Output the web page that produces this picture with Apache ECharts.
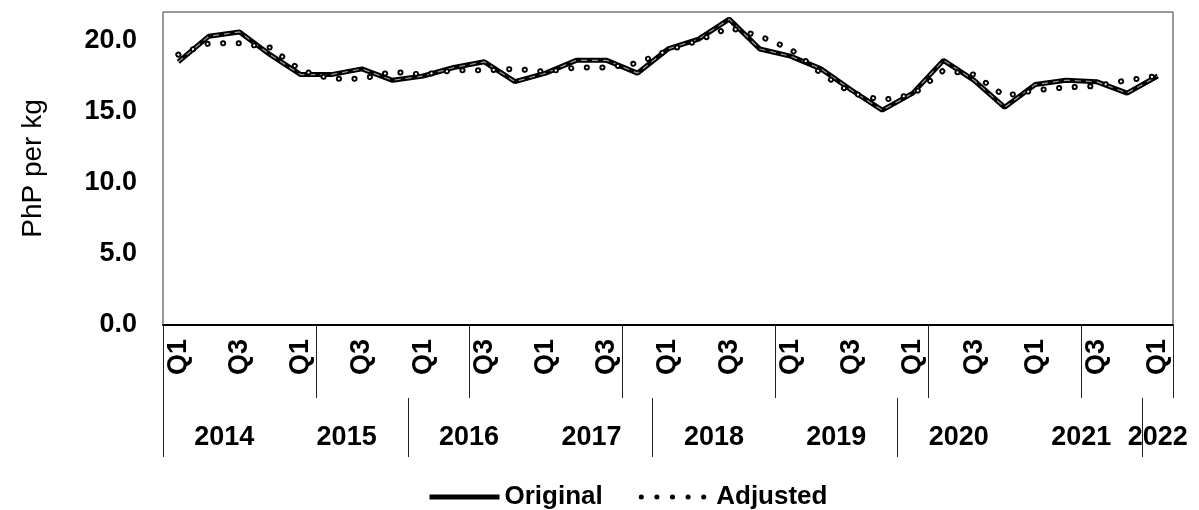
<!DOCTYPE html>
<html>
<head>
<meta charset="utf-8">
<script src="https://cdn.jsdelivr.net/npm/echarts@6/dist/echarts.min.js"></script>
<style>
    html, body { margin: 0; padding: 0; background: #fff; }
    #chart { width: 1199px; height: 510px; }
</style>
</head>
<body>
<div id="chart"></div>
<script>
// 季度标签 (2014 Q1 - 2022 Q1)
const quarters = [
    'Q1', 'Q2', 'Q3', 'Q4', 'Q1', 'Q2', 'Q3', 'Q4',
    'Q1', 'Q2', 'Q3', 'Q4', 'Q1', 'Q2', 'Q3', 'Q4',
    'Q1', 'Q2', 'Q3', 'Q4', 'Q1', 'Q2', 'Q3', 'Q4',
    'Q1', 'Q2', 'Q3', 'Q4', 'Q1', 'Q2', 'Q3', 'Q4',
    'Q1'
];
const years = ['2014', '2015', '2016', '2017', '2018', '2019', '2020', '2021', '2022'];
const quartersPerYear = [4, 4, 4, 4, 4, 4, 4, 4, 1];

const original = [
    18.5, 20.3, 20.6, 19.0, 17.6, 17.6, 18.0, 17.2,
    17.5, 18.1, 18.5, 17.1, 17.7, 18.6, 18.6, 17.7,
    19.4, 20.1, 21.5, 19.4, 18.9, 18.0, 16.5, 15.1,
    16.3, 18.6, 17.2, 15.3, 16.9, 17.2, 17.1, 16.3,
    17.5
];
const adjusted = [
    19.0, 19.8, 19.8, 19.5, 17.9, 17.3, 17.3, 17.8,
    17.6, 17.9, 17.9, 18.0, 17.8, 18.1, 18.1, 18.4,
    19.3, 20.0, 20.9, 20.3, 19.4, 17.7, 16.3, 15.8,
    16.2, 17.9, 17.6, 16.1, 16.5, 16.7, 16.8, 17.2,
    17.5
];

// 年份标签位置 = 每年季度的中心; 分隔线每两年一条
const yearCenters = [];
const yearDividers = [];
let start = 0;
quartersPerYear.forEach((n, i) => {
    yearCenters.push(start + n / 2);
    if (i % 2 === 0) yearDividers.push(start);
    start += n;
});

const font = 'Liberation Sans, Arial, sans-serif';
const chart = echarts.init(document.getElementById('chart'));

const option = {
    animation: false,
    grid: {
        left: 163, right: 26, top: 12, bottom: 185,
        show: true, borderColor: '#333', borderWidth: 1
    },
    legend: {
        data: ['Original', 'Adjusted'],
        left: 422, top: 479,
        itemWidth: 70, itemHeight: 14, itemGap: 36,
        itemStyle: { opacity: 0 },
        lineStyle: { width: 5 },
        textStyle: { fontFamily: font, fontSize: 26, fontWeight: 'bold', color: '#000' }
    },
    xAxis: [{
        type: 'category',
        data: quarters,
        boundaryGap: true,
        axisLine: { lineStyle: { color: '#000', width: 2 } },
        axisTick: { show: true, interval: 4, length: 73, lineStyle: { color: '#222', width: 1 } },
        axisLabel: {
            interval: 1, rotate: 90, margin: 14,
            fontFamily: font, fontSize: 27, fontWeight: 'bold', color: '#000'
        }
    }, {
        type: 'value',
        position: 'bottom',
        offset: 73,
        min: 0, max: quarters.length,
        splitLine: { show: false },
        axisLine: { show: false },
        axisTick: { show: true, customValues: yearDividers, length: 59, lineStyle: { color: '#222', width: 1 } },
        axisLabel: {
            customValues: yearCenters, margin: 26,
            fontFamily: font, fontSize: 27, fontWeight: 'bold', color: '#000',
            formatter: v => years[yearCenters.indexOf(v)] || ''
        }
    }],
    yAxis: {
        type: 'value',
        min: 0, max: 22, interval: 5,
        name: 'PhP per kg',
        nameLocation: 'middle',
        nameGap: 116,
        nameTextStyle: { fontFamily: font, fontSize: 28, color: '#000' },
        splitLine: { show: false },
        axisLine: { show: false },
        axisTick: { show: false },
        axisLabel: {
            showMaxLabel: false, margin: 26,
            fontFamily: font, fontSize: 27, fontWeight: 'bold', color: '#000',
            formatter: v => v.toFixed(1)
        }
    },
    series: [{
        name: 'Original',
        type: 'line',
        data: original,
        symbol: 'none',
        lineStyle: { color: '#000', width: 5 },
        itemStyle: { color: '#000' },
        z: 3
    }, {
        // 原始线中间的浅色虚线
        name: 'Original-core',
        type: 'line',
        data: original,
        symbol: 'none',
        lineStyle: { color: '#9a9a9a', width: 1.2, type: [6, 5] },
        z: 3
    }, {
        name: 'Adjusted',
        type: 'line',
        data: adjusted,
        symbol: 'none',
        lineStyle: { color: '#000', width: 6, type: [0.1, 15.5], cap: 'round' },
        itemStyle: { color: '#000' },
        z: 4
    }, {
        // 点的白色内芯, 做出空心圆点
        name: 'Adjusted-core',
        type: 'line',
        data: adjusted,
        symbol: 'none',
        lineStyle: { color: '#fff', width: 2.2, type: [0.1, 15.5], cap: 'round' },
        z: 5
    }]
};

chart.setOption(option);
</script>
</body>
</html>
